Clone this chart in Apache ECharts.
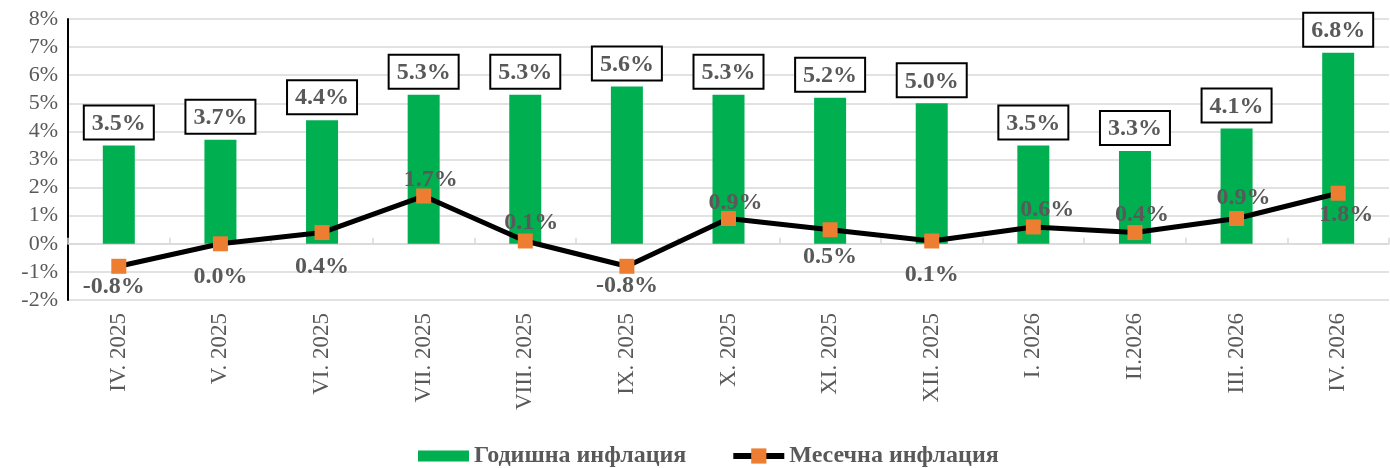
<!DOCTYPE html>
<html>
<head>
<meta charset="utf-8">
<script src="https://cdn.jsdelivr.net/npm/echarts@6/dist/echarts.min.js"></script>
<style>
  html, body { margin: 0; padding: 0; background: #fff; }
  #chart { width: 1390px; height: 468px; }
</style>
</head>
<body>
<div id="chart"></div>
<script>
// данни
const months = ['IV. 2025', 'V. 2025', 'VI. 2025', 'VII. 2025', 'VIII. 2025', 'IX. 2025', 'X. 2025',
  'XI. 2025', 'XII. 2025', 'I. 2026', 'II.2026', 'III. 2026', 'IV. 2026'];
const annualInflation = [3.5, 3.7, 4.4, 5.3, 5.3, 5.6, 5.3, 5.2, 5.0, 3.5, 3.3, 4.1, 6.8];
const monthlyInflation = [-0.8, 0.0, 0.4, 1.7, 0.1, -0.8, 0.9, 0.5, 0.1, 0.6, 0.4, 0.9, 1.8];
const yTicks = [-2, 8, 1]; // min, max, interval

// отместване на етикетите на месечната линия спрямо маркера (px)
const lineLabelDx = [-5, 0, 0, 7, 6, 0, 7, 0, 0, 14, 7, 7, 8];
const lineLabelDy = [21, 33, 34, -16, -18, 20, -16, 27, 34, -17, -18, -21, 22];

const serif = '"Liberation Serif", "Times New Roman", serif';
const gray = '#595959';
const pct = v => v.toFixed(1) + '%';

const chart = echarts.init(document.getElementById('chart'));

chart.setOption({
  animation: false,
  textStyle: { fontFamily: serif },
  grid: { left: 68, right: 1, top: 19, bottom: 168 },
  legend: {
    top: 439,
    left: 413,
    itemGap: 44,
    itemWidth: 51,
    itemHeight: 19,
    lineStyle: { width: 6, color: '#000' },
    textStyle: { fontFamily: serif, fontWeight: 'bold', fontSize: 24, color: gray },
    data: [
      { name: 'Годишна инфлация', icon: 'path://M0,0 H51 V11 H0 Z' },
      { name: 'Месечна инфлация' }
    ]
  },
  xAxis: [
    {
      type: 'category',
      data: months,
      position: 'bottom',
      axisLine: { show: false, onZero: false },
      axisTick: { show: false },
      axisLabel: { rotate: 90, margin: 13, fontSize: 23, color: gray, fontFamily: serif }
    },
    {
      type: 'category',
      data: months,
      axisLine: { show: true, onZero: true, lineStyle: { color: '#d9d9d9', width: 1.5 } },
      axisTick: { show: true, length: 6, lineStyle: { color: '#d9d9d9', width: 1.5 } },
      axisLabel: { show: false }
    }
  ],
  yAxis: {
    type: 'value',
    min: yTicks[0],
    max: yTicks[1],
    interval: yTicks[2],
    axisLine: { show: true, lineStyle: { color: '#000', width: 2 } },
    axisTick: { show: false },
    splitLine: { lineStyle: { color: '#d9d9d9', width: 1.5 } },
    axisLabel: {
      fontSize: 22, color: gray, fontFamily: serif, margin: 10,
      formatter: v => v + '%'
    }
  },
  series: [
    {
      name: 'Годишна инфлация',
      type: 'bar',
      xAxisIndex: 0,
      data: annualInflation,
      barWidth: 32,
      itemStyle: { color: '#00b050' },
      label: {
        show: true,
        position: 'top',
        distance: 7,
        formatter: p => pct(p.value),
        fontFamily: serif,
        fontWeight: 'bold',
        fontSize: 24,
        color: gray,
        backgroundColor: '#fff',
        borderColor: '#000',
        borderWidth: 2,
        padding: [5, 7, 3, 7]
      }
    },
    {
      name: 'Месечна инфлация',
      type: 'line',
      xAxisIndex: 0,
      data: monthlyInflation.map((v, i) => ({
        value: v,
        label: { offset: [lineLabelDx[i], lineLabelDy[i]] }
      })),
      symbol: 'rect',
      symbolSize: 15,
      lineStyle: { color: '#000', width: 5 },
      itemStyle: { color: '#ed7d31' },
      label: {
        show: true,
        position: 'inside',
        formatter: p => pct(p.value),
        fontFamily: serif,
        fontWeight: 'bold',
        fontSize: 24,
        color: gray
      },
      z: 5
    }
  ]
});
</script>
</body>
</html>
